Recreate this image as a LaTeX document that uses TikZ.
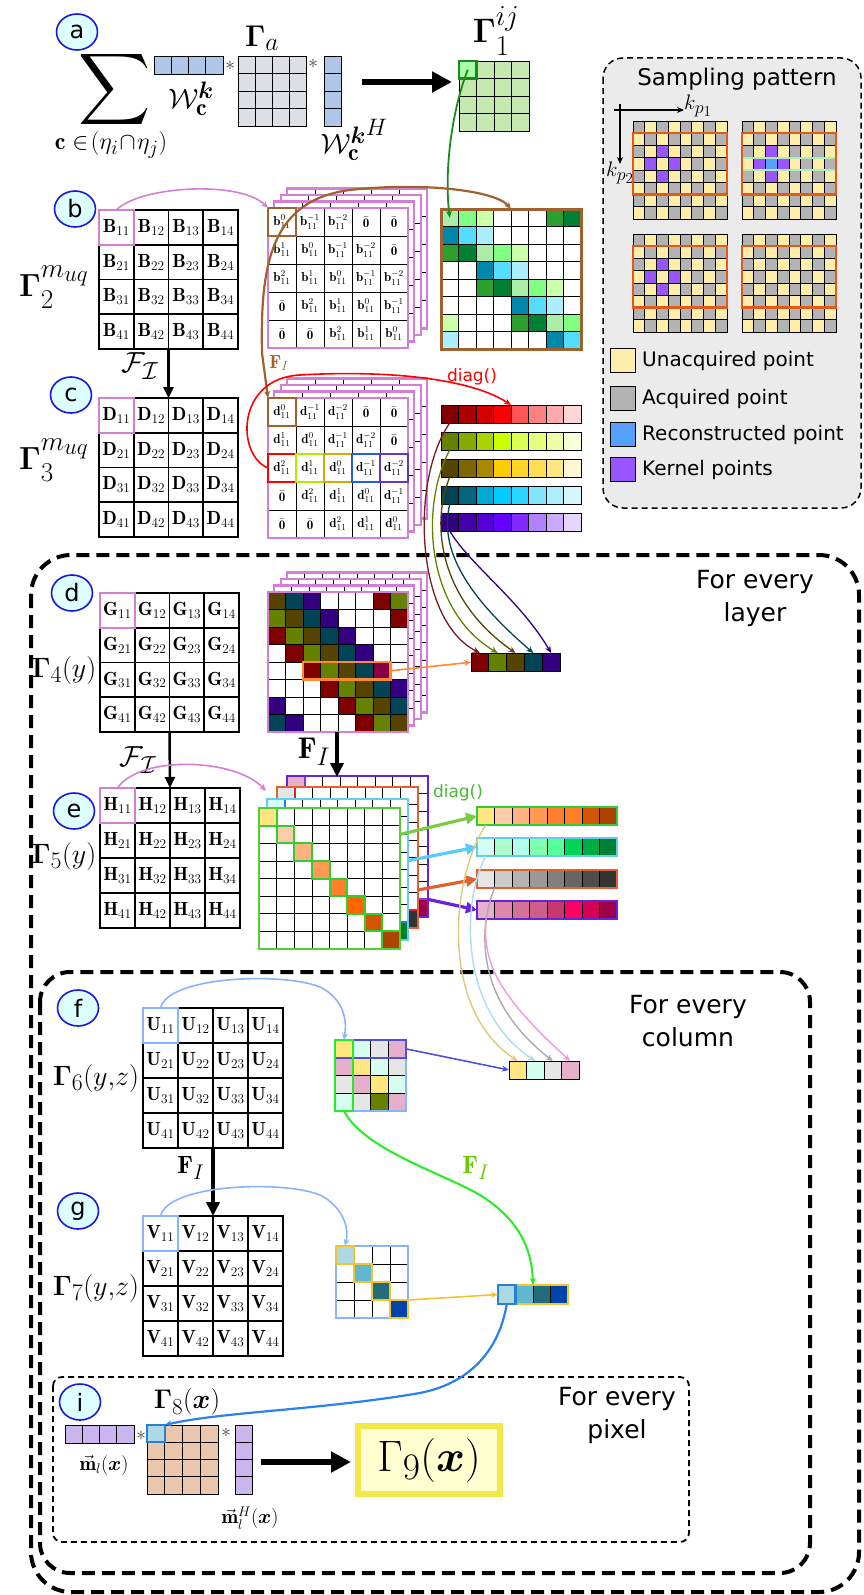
\RequirePackage{fix-cm}
\documentclass[tikz,border=0pt]{standalone}
\usepackage{fontspec}
\usepackage{amsmath,amssymb,bm}
\newfontfamily\dv{DejaVu Sans}
\usetikzlibrary{arrows.meta,shapes.geometric}
\newcommand\fs[1]{\fontsize{#1}{#1}\selectfont}
\newcommand\bigscripts{\def\defaultscriptratio{.85}\def\defaultscriptscriptratio{.72}}
% colours
\definecolor{pk}{HTML}{D47FD4}\definecolor{brn}{HTML}{A0622D}
\definecolor{labfill}{HTML}{DDFFFF}\definecolor{labblue}{HTML}{1818E0}
\definecolor{wblue}{HTML}{AEC6E8}\definecolor{gagray}{HTML}{DCDFE4}
\definecolor{gone}{HTML}{C6E9B0}\definecolor{goneA}{HTML}{AAFFAA}\definecolor{goneB}{HTML}{1A8A1A}
\definecolor{sbox}{HTML}{EBEBEB}\definecolor{yel}{HTML}{FFEEAA}\definecolor{gry}{HTML}{B3B3B3}
\definecolor{kpur}{HTML}{9955FF}\definecolor{rblue}{HTML}{55A0FF}\definecolor{orng}{HTML}{E05A1A}\definecolor{lgrn}{HTML}{AAEEBB}
\definecolor{L1}{HTML}{AAEEAA}\definecolor{L2}{HTML}{80FF80}\definecolor{L3}{HTML}{CCFFAA}
\definecolor{D1}{HTML}{2CA02C}\definecolor{D2}{HTML}{008033}
\definecolor{T1}{HTML}{0088AA}\definecolor{T2}{HTML}{55DDFF}\definecolor{T3}{HTML}{AAEEFF}
\definecolor{r1}{HTML}{800000}\definecolor{r2}{HTML}{AA0000}\definecolor{r3}{HTML}{D40000}\definecolor{r4}{HTML}{FF0000}
\definecolor{r5}{HTML}{FF5555}\definecolor{r6}{HTML}{FF8080}\definecolor{r7}{HTML}{FFAAAA}\definecolor{r8}{HTML}{FFD5D5}
\definecolor{o1}{HTML}{668000}\definecolor{o2}{HTML}{88AA00}\definecolor{o3}{HTML}{AAD400}\definecolor{o4}{HTML}{CCFF00}
\definecolor{o5}{HTML}{DDFF55}\definecolor{o6}{HTML}{E5FF80}\definecolor{o7}{HTML}{EEFFAA}\definecolor{o8}{HTML}{F6FFD5}
\definecolor{y1}{HTML}{554400}\definecolor{y2}{HTML}{806600}\definecolor{y3}{HTML}{AA8800}\definecolor{y4}{HTML}{FFCC00}
\definecolor{y5}{HTML}{FFD42A}\definecolor{y6}{HTML}{FFDD55}\definecolor{y7}{HTML}{FFE680}\definecolor{y8}{HTML}{FFF6D5}
\definecolor{c1}{HTML}{004455}\definecolor{c2}{HTML}{006680}\definecolor{c3}{HTML}{00AAD4}\definecolor{c4}{HTML}{00CCFF}
\definecolor{c5}{HTML}{2AD4FF}\definecolor{c6}{HTML}{80E5FF}\definecolor{c7}{HTML}{AAEEFF}\definecolor{c8}{HTML}{D5F6FF}
\definecolor{p1}{HTML}{330080}\definecolor{p2}{HTML}{4400AA}\definecolor{p3}{HTML}{5500D4}\definecolor{p4}{HTML}{6600FF}
\definecolor{p5}{HTML}{7F2AFF}\definecolor{p6}{HTML}{B380FF}\definecolor{p7}{HTML}{CCAAFF}\definecolor{p8}{HTML}{E5D5FF}
\definecolor{dM}{HTML}{880044}\definecolor{rc}{HTML}{7A1A1A}
\definecolor{bxlime}{HTML}{AAEE00}\definecolor{bxgold}{HTML}{D4AA00}\definecolor{bxblue}{HTML}{2060E0}\definecolor{bxpur}{HTML}{6633CC}
\definecolor{orn2}{HTML}{FF8833}
\definecolor{gA}{HTML}{FFE680}\definecolor{gB}{HTML}{FFCCAA}\definecolor{gC}{HTML}{FFB380}\definecolor{gD}{HTML}{FF9955}
\definecolor{gE}{HTML}{FF7F2A}\definecolor{gF}{HTML}{FF6600}\definecolor{gG}{HTML}{D45500}\definecolor{gH}{HTML}{AA4400}
\definecolor{mA}{HTML}{D5FFF6}\definecolor{mB}{HTML}{AAFFCC}\definecolor{mC}{HTML}{B3FFEE}\definecolor{mD}{HTML}{80FFB3}
\definecolor{mE}{HTML}{55FF99}\definecolor{mF}{HTML}{00D455}\definecolor{mG}{HTML}{00AA44}\definecolor{mH}{HTML}{008033}
\definecolor{kA}{HTML}{E6E6E6}\definecolor{kB}{HTML}{CCCCCC}\definecolor{kC}{HTML}{B3B3B3}\definecolor{kD}{HTML}{999999}
\definecolor{kE}{HTML}{808080}\definecolor{kF}{HTML}{666666}\definecolor{kG}{HTML}{4D4D4D}\definecolor{kH}{HTML}{333333}
\definecolor{qA}{HTML}{E6B0CC}\definecolor{qB}{HTML}{DE87AA}\definecolor{qC}{HTML}{D4709A}\definecolor{qD}{HTML}{CF5E8E}
\definecolor{qE}{HTML}{C83771}\definecolor{qF}{HTML}{FF0066}\definecolor{qG}{HTML}{D40055}\definecolor{qH}{HTML}{A0004A}
\definecolor{eGb}{HTML}{55CC33}\definecolor{eBb}{HTML}{66CCEE}\definecolor{eRb}{HTML}{E06030}\definecolor{ePb}{HTML}{6622DD}
\definecolor{eGx}{HTML}{33CC33}\definecolor{eBx}{HTML}{2A7AE2}\definecolor{eRx}{HTML}{DD2222}\definecolor{ePx}{HTML}{8833DD}
\definecolor{gArr}{HTML}{77CC44}\definecolor{bArr}{HTML}{55CCFF}
\definecolor{tanc}{HTML}{E0C878}\definecolor{lbc}{HTML}{AADDEE}\definecolor{grc}{HTML}{AAAAAA}\definecolor{pnc}{HTML}{EE99DD}
\definecolor{lbl}{HTML}{88B4FF}\definecolor{ind}{HTML}{5050DD}\definecolor{fgrn}{HTML}{22EE22}
\definecolor{Yl}{HTML}{FFE680}\definecolor{Mn}{HTML}{D5FFEE}\definecolor{Gy}{HTML}{E6E6E6}\definecolor{Pk}{HTML}{E6B0CC}\definecolor{Ol}{HTML}{668000}
\definecolor{v1}{HTML}{ADD8E6}\definecolor{v2}{HTML}{5FB8D0}\definecolor{v3}{HTML}{236C7A}\definecolor{v4}{HTML}{0044AA}
\definecolor{gold}{HTML}{F5C330}\definecolor{vbl}{HTML}{2A80D0}\definecolor{cblue}{HTML}{2A80EE}
\definecolor{mpur}{HTML}{CBB5EE}\definecolor{peach}{HTML}{EAC6AC}\definecolor{yb}{HTML}{F2E84A}\definecolor{yfill}{HTML}{FFFFD0}
\definecolor{fgl}{HTML}{66CC00}\definecolor{dgl}{HTML}{44BB33}\definecolor{stc}{HTML}{444444}

\tikzset{
 gcell/.style={draw=black, line width=0.8pt, inner sep=0pt, outer sep=0pt},
 scell/.style={gcell, line width=0.6pt, minimum width=11.75pt, minimum height=12.25pt},
 lab/.style={ellipse, draw=labblue, line width=1.6pt, fill=labfill, minimum width=41pt, minimum height=36pt, inner sep=0pt, font=\dv\fs{24}},
 ml/.style={font=\bigscripts\fs{#1}, inner sep=1pt},
 hbox/.style={draw=#1, line width=2.5pt, inner sep=0pt, outer sep=0pt},
 bigarrow/.style={line width=6pt, -{Triangle[length=20pt,width=20pt]}},
 farrow/.style={line width=2.5pt, -{Triangle[length=11pt,width=10pt]}},
 Farrow/.style={line width=4pt, -{Triangle[length=14pt,width=13pt]}},
 thinarr/.style={-{Stealth[length=7pt,width=6pt]}},
 bigdash/.style={line width=4pt, dash pattern=on 13pt off 7pt},
 smalldash/.style={line width=1.8pt, dash pattern=on 6pt off 4pt},
 star/.style={font=\fs{20}, text=stc, inner sep=0pt},
}

% generic grids
\newcommand\colgrid[6]{%
 \foreach \rowl [count=\ri] in {#6}{%
  \foreach \cellc [count=\ci] in \rowl {%
   \node[gcell, fill=\cellc, minimum width=#4pt, minimum height=#5pt] (#1-\ri-\ci) at ({#2+(\ci-0.5)*#4},{#3+(\ri-0.5)*#5}) {};
  }}}
\newcommand\unigrid[8]{%
 \foreach \ri in {1,...,#4}{\foreach \ci in {1,...,#5}{%
  \node[gcell, fill=#8, minimum width=#6pt, minimum height=#7pt] (#1-\ri-\ci) at ({#2+(\ci-0.5)*#6},{#3+(\ri-0.5)*#7}) {};}}}
\newcommand\lettergrid[6]{%
 \foreach \ri in {1,...,4}{\foreach \ci in {1,...,4}{%
  \node[gcell, line width=1.8pt, minimum size=#4pt, font=\fs{#6}] (#1-\ri-\ci) at ({#2+(\ci-0.5)*#4},{#3+(\ri-0.5)*#4}) {$\mathbf{#5}_{\ri\ci}$};}}}
\newcommand\toepgrid[4]{%
 \foreach \ri in {1,...,5}{\foreach \ci in {1,...,5}{%
  \pgfmathtruncatemacro\kk{\ri-\ci}%
  \node[gcell, line width=1pt, fill=white, minimum size=28pt, font=\fs{13}] (#1-\ri-\ci) at ({#2+(\ci-0.5)*28},{#3+(\ri-0.5)*28})
   {\ifnum\kk>2 $\bar{\mathbf{0}}$\else\ifnum\kk<-2 $\bar{\mathbf{0}}$\else $\mathbf{#4}^{\kk}_{11}$\fi\fi};}}}
\newcommand\stackback[6]{%
 \begin{scope}[shift={({#5*6.3},{-#5*6.5})}]
  \fill[white] (#1,#2) rectangle ++(#3,#3);
  \pgfmathtruncatemacro\nm{#4-1}
  \foreach \i in {1,...,\nm}{%
   \draw[line width=0.7pt] ({#1+\i*#3/#4},#2) -- ++(0,#3);
   \draw[line width=0.7pt] (#1,{#2+\i*#3/#4}) -- ++(#3,0);}
  \draw[#6, line width=2.2pt] (#1,#2) rectangle ++(#3,#3);
 \end{scope}}
\newcommand\sgrid[3]{%
 \foreach \ri in {1,...,8}{\foreach \ci in {1,...,8}{%
  \pgfmathtruncatemacro\pp{mod(\ri+\ci,2)}%
  \ifnum\pp=0 \def\fc{gry}\else\def\fc{yel}\fi
  \node[scell, fill=\fc] (#1-\ri-\ci) at ({#2+(\ci-0.5)*11.75},{#3+(\ri-0.5)*12.25}) {};}}}
\newcommand\elayer[6]{%
 \foreach \ri in {1,...,8}{\foreach \ci in {1,...,8}{%
  \node[gcell, line width=0.6pt, fill=white, minimum size=17.625pt] (#1-\ri-\ci) at ({#2+(\ci-0.5)*17.625},{#3+(\ri-0.5)*17.625}) {};}}
 \foreach \cc [count=\i] in {#6}{\node[gcell, fill=\cc, draw=#5, line width=2pt, minimum size=17.625pt] (#1-d\i) at (#1-\i-\i) {};}
 \draw[#4, line width=2.8pt] (#2,#3) rectangle ++(141,141);}

\begin{document}
\begin{tikzpicture}[x=1pt,y=-1pt]
\useasboundingbox (0,0) rectangle (863,1595);

% ---------- loop boxes ----------
\draw[bigdash, rounded corners=40pt] (31,555) rectangle (859,1592);
\draw[bigdash, rounded corners=30pt] (40,972) rectangle (810,1573);
\draw[smalldash, rounded corners=9pt] (53,1377) rectangle (689,1542);
\node[font=\dv\fontsize{25}{33}\selectfont, align=center] (tlayer) at (755,598) {For every\\layer};
\node[font=\dv\fontsize{25}{33}\selectfont, align=center] (tcol) at (688,1021) {For every\\column};
\node[font=\dv\fontsize{25}{33}\selectfont, align=center] (tpix) at (617,1415) {For every\\pixel};

% ---------- (a) ----------
\node[lab] (la) at (77,32) {a};
\node[font=\fs{50}] (sum) at (115,90) {$\displaystyle\sum$};
\node[ml=24] (sumsub) at (111,145) {$\mathbf{c}\in\!(\eta_i\!\cap\!\eta_j)$};
\unigrid{wv}{154}{56}{1}{4}{17.25}{18}{wblue}
\node[star] (st1) at (230,66) {$*$};
\node[ml=28] (wlab) at (191,99) {$\mathcal{W}_{\mathbf{c}}^{\bm{k}}$};
\node[ml=30] (galab) at (262,38) {$\bm{\Gamma}_a$};
\unigrid{ga}{238}{56}{4}{4}{17}{17.5}{gagray}
\node[star] (st2) at (313,64) {$*$};
\unigrid{wh}{324}{56}{4}{1}{17}{17.5}{wblue}
\node[ml=28] (whlab) at (354,140) {${\mathcal{W}_{\mathbf{c}}^{\bm{k}}}^{H}$};
\coordinate (aA) at (362,82); \coordinate (aB) at (452,82);
\draw[bigarrow] (aA) -- (aB);
\node[ml=34] (g1lab) at (496,31) {$\bm{\Gamma}_1^{ij}$};
\unigrid{go}{459}{61}{4}{4}{17.5}{17.5}{gone}
\node[gcell, draw=goneB, line width=2.2pt, fill=goneA, minimum size=17.5pt] (go11) at (go-1-1) {};

% ---------- sampling pattern ----------
\draw[line width=1.5pt, dash pattern=on 6pt off 4pt, fill=sbox, rounded corners=20pt] (603,58) rectangle (861,508);
\node[font=\dv\fs{23}] (stitle) at (737,79) {Sampling pattern};
\coordinate (ax0) at (614,110); \coordinate (ax1) at (684,110); \coordinate (ay0) at (620,104); \coordinate (ay1) at (620,164);
\draw[thinarr, line width=1.2pt] (ax0) -- (ax1);
\draw[thinarr, line width=1.2pt] (ay0) -- (ay1);
\node[ml=21, anchor=west] (kp1) at (683,106) {$k_{p_1}$};
\node[ml=21] (kp2) at (620,173) {$k_{p_2}$};
\sgrid{sA}{633}{121}
\sgrid{sB}{742}{121}
\sgrid{sC}{633}{234}
\sgrid{sD}{742}{234}
\foreach \a/\b in {3/3,4/2,4/4,5/3}{
 \node[scell, fill=kpur] (kA-\a-\b) at (sA-\a-\b) {};
 \node[scell, fill=kpur] (kB-\a-\b) at (sB-\a-\b) {};
 \node[scell, fill=kpur] (kC-\a-\b) at (sC-\a-\b) {};}
\node[scell, fill=rblue] (kB-rec) at (sB-4-3) {};
\draw[lgrn, line width=1.5pt] (sB-4-1.north west) rectangle (sB-4-8.south east);
\foreach \g in {sA,sB,sC,sD}{\draw[orng, line width=2.2pt] (\g-2-1.north west) rectangle (\g-6-8.south east);}
\tikzset{lgsq/.style={gcell, line width=1.2pt, minimum size=24.5pt}, lgtx/.style={anchor=west, font=\dv\fs{20}, inner sep=0pt}}
\node[lgsq, fill=yel] (lg1) at (623,360.5) {};
\node[lgsq, fill=gry] (lg2) at (623,398.5) {};
\node[lgsq, fill=rblue] (lg3) at (623,434.5) {};
\node[lgsq, fill=kpur] (lg4) at (623,469.5) {};
\node[lgtx] (lt1) at (642,361) {Unacquired point};
\node[lgtx] (lt2) at (642,399) {Acquired point};
\node[lgtx] (lt3) at (642,435) {Reconstructed point};
\node[lgtx] (lt4) at (642,470) {Kernel points};

% ---------- (b) ----------
\node[lab] (lb) at (75,209) {b};
\node[ml=32] (g2lab) at (54,287) {$\bm{\Gamma}_2^{m_{uq}}$};
\lettergrid{B}{99}{210}{34.75}{B}{19}
\node[hbox=pk, minimum size=34.75pt] (B11b) at (B-1-1) {};
\foreach \k in {3,2,1}{\stackback{268}{208}{140}{5}{\k}{pk}}
\toepgrid{bs}{268}{208}{b}
\draw[pk, line width=2.4pt] (bs-1-1.north west) rectangle (bs-5-5.south east);
\node[hbox=brn, minimum size=28pt] (bs11b) at (bs-1-1) {};
\draw[pk, line width=1.6pt, thinarr] (B-1-1.north) .. controls (140,186) and (240,180) .. (bs-1-1.north west);
\colgrid{cb}{441}{209}{17.5}{17.5}{{L1,L2,L3,white,white,white,D1,D2},{T1,T2,T3,white,white,white,white,white},{D1,D2,L1,L2,L3,white,white,white},{white,white,T1,T2,T3,white,white,white},{white,white,D1,D2,L1,L2,L3,white},{white,white,white,white,T1,T2,T3,white},{L3,white,white,white,D1,D2,L1,L2},{T3,white,white,white,white,white,T1,T2}}
\draw[brn, line width=3pt] (cb-1-1.north west) rectangle (cb-8-8.south east);
\draw[goneB, line width=1.8pt, thinarr] (go11.center) .. controls (452,110) and (444,170) .. (cb-1-1.center);

% ---------- (c) ----------
\node[lab] (lc) at (71,395) {c};
\node[ml=32] (g3lab) at (54,460) {$\bm{\Gamma}_3^{m_{uq}}$};
\lettergrid{D}{99}{398}{34.75}{D}{19}
\node[hbox=pk, minimum size=34.75pt] (D11b) at (D-1-1) {};
\draw[farrow] (B-4-2.south east) -- (D-1-2.north east);
\node[ml=29] (ft1) at (140,366) {$\mathcal{F}_{\mathcal{I}}$};
\foreach \k in {3,2,1}{\stackback{268}{398}{140}{5}{\k}{pk}}
\toepgrid{ds}{268}{398}{d}
\draw[pk, line width=2.4pt] (ds-1-1.north west) rectangle (ds-5-5.south east);
\node[hbox=brn, minimum size=28pt] (ds11b) at (ds-1-1) {};
\node[hbox=red, minimum size=28pt] (ds31b) at (ds-3-1) {};
\node[hbox=bxlime, minimum size=28pt] (ds32b) at (ds-3-2) {};
\node[hbox=bxgold, minimum size=28pt] (ds33b) at (ds-3-3) {};
\node[hbox=bxblue, minimum size=28pt] (ds34b) at (ds-3-4) {};
\node[hbox=bxpur, minimum size=28pt] (ds35b) at (ds-3-5) {};
\coordinate (brA) at (262,353);
\draw[brn, line width=2.2pt, thinarr] (brA) .. controls (260,262) and (272,200) .. (350,190) .. controls (420,182) and (495,190) .. (cb-1-5.north west);
\draw[brn, line width=2.2pt, thinarr] (brA) -- (ds-1-1.north west);
\node[ml=19, text=brn] (fib) at (279,363) {$\mathbf{F}_I$};
\colgrid{cr1}{441}{405}{17.5}{18}{{r1,r2,r3,r4,r5,r6,r7,r8}}
\colgrid{cr2}{441}{432}{17.5}{18}{{o1,o2,o3,o4,o5,o6,o7,o8}}
\colgrid{cr3}{441}{459}{17.5}{18}{{y1,y2,y3,y4,y5,y6,y7,y8}}
\colgrid{cr4}{441}{486}{17.5}{18}{{c1,c2,c3,c4,c5,c6,c7,c8}}
\colgrid{cr5}{441}{513}{17.5}{18}{{p1,p2,p3,p4,p5,p6,p7,p8}}
\node[red, font=\dv\fs{17}] (dg1) at (472,377) {diag()};
\draw[red, line width=1.6pt, thinarr] (ds-3-1.west) .. controls (236,455) and (236,378) .. (300,375) .. controls (385,370) and (470,378) .. (cr1-1-5.north west);

% ---------- (d) ----------
\node[lab] (ld) at (72,593) {d};
\node[ml=28] (g4lab) at (64,670) {$\bm{\Gamma}_4(y)$};
\lettergrid{G}{100}{593}{34.75}{G}{19}
\node[hbox=pk, minimum size=34.75pt] (G11b) at (G-1-1) {};
\foreach \k in {3,2,1}{\stackback{268}{592}{140}{8}{\k}{pk}}
\colgrid{dc}{268}{592}{17.5}{17.5}{{y1,c1,p1,white,white,white,r1,o1},{o1,y1,c1,p1,white,white,white,r1},{r1,o1,y1,c1,p1,white,white,white},{white,r1,o1,y1,c1,p1,white,white},{white,white,r1,o1,y1,c1,dM,white},{white,white,white,r1,o1,y1,c1,p1},{p1,white,white,white,r1,o1,y1,c1},{c1,p1,white,white,white,r1,o1,y1}}
\draw[pk, line width=2.4pt] (dc-1-1.north west) rectangle (dc-8-8.south east);
\draw[orn2, line width=2.2pt] (dc-5-3.north west) rectangle (dc-5-7.south east);
\colgrid{dv}{471}{653}{17.8}{18.5}{{r1,o1,y1,c1,p1}}
\draw[orn2, line width=1.6pt, thinarr] (dc-5-7.east) -- (dv-1-1.west);
\draw[rc, line width=1.3pt, thinarr] (cr1-1-1.south) .. controls (410,480) and (415,620) .. (dv-1-1.north);
\draw[o1, line width=1.3pt, thinarr] (cr2-1-1.south) .. controls (420,505) and (425,610) .. (dv-1-2.north);
\draw[y1, line width=1.3pt, thinarr] (cr3-1-1.south) .. controls (430,525) and (440,600) .. (dv-1-3.north);
\draw[c1, line width=1.3pt, thinarr] (cr4-1-1.south) .. controls (440,545) and (460,590) .. (dv-1-4.north);
\draw[p1, line width=1.3pt, thinarr] (cr5-1-1.south) .. controls (470,565) and (520,600) .. (dv-1-5.north);

% ---------- (e) ----------
\node[lab] (le) at (74,811) {e};
\node[ml=28] (g5lab) at (64,856) {$\bm{\Gamma}_5(y)$};
\lettergrid{H}{100}{788}{35}{H}{19}
\node[hbox=pk, minimum size=35pt] (H11b) at (H-1-1) {};
\draw[farrow] (G-4-2.south east) -- (H-1-2.north east);
\node[ml=29] (ft2) at (138,760) {$\mathcal{F}_{\mathcal{I}}$};
\elayer{eP}{287}{776}{ePb}{ePx}{qA,qB,qC,qD,qE,qF,qG,qH}
\elayer{eR}{277}{787}{eRb}{eRx}{kA,kB,kC,kD,kE,kF,kG,kH}
\elayer{eB}{267}{799}{eBb}{eBx}{mA,mB,mC,mD,mE,mF,mG,mH}
\elayer{eG}{259}{808}{eGb}{eGx}{gA,gB,gC,gD,gE,gF,gG,gH}
\coordinate (fiT) at (337,732); \coordinate (fiB) at (337,777);
\draw[Farrow] (fiT) -- (fiB);
\node[ml=30] (fi1) at (314,752) {$\mathbf{F}_I$};
\coordinate (pkE) at (266,791);
\draw[pk, line width=1.6pt, thinarr] (H-1-1.north) .. controls (140,755) and (235,758) .. (pkE);
\node[dgl, font=\dv\fs{17}] (dg2) at (458,793) {diag()};
\colgrid{rG}{477}{807}{17.5}{18}{{gA,gB,gC,gD,gE,gE,gG,gH}}
\colgrid{rB}{477}{838}{17.5}{18}{{mA,mB,mC,mD,mE,mF,mG,mH}}
\colgrid{rR}{477}{870}{17.5}{18}{{kA,kB,kC,kD,kE,kF,kG,kH}}
\colgrid{rP}{477}{901}{17.5}{18}{{qA,qB,qC,qD,qE,qF,qG,qH}}
\draw[eGx, line width=2.8pt] (rG-1-1.north west) rectangle (rG-1-8.south east);
\draw[eBb, line width=2.8pt] (rB-1-1.north west) rectangle (rB-1-8.south east);
\draw[eRb, line width=2.8pt] (rR-1-1.north west) rectangle (rR-1-8.south east);
\draw[ePb, line width=2.8pt] (rP-1-1.north west) rectangle (rP-1-8.south east);
\tikzset{earr/.style={line width=3.2pt, -{Triangle[length=11pt,width=11pt]}}}
\draw[earr, gArr] (eG-2-8.east) -- (rG-1-1.west);
\draw[earr, bArr] (eB-4-8.east) -- (rB-1-1.west);
\draw[earr, eRb] ([yshift=-6pt]eR-6-8.east) -- (rR-1-1.west);
\draw[earr, ePb] (eP-8-8.north east) -- (rP-1-1.west);

% ---------- (f) ----------
\node[lab] (lf) at (78,1008) {f};
\node[ml=28] (g6lab) at (96,1078) {$\bm{\Gamma}_6(y{,}z)$};
\lettergrid{U}{143}{1008}{35}{U}{19}
\node[hbox=lbl, minimum size=35pt] (U11b) at (U-1-1) {};
\colgrid{sm}{335}{1040}{17.75}{17.75}{{Yl,Mn,Gy,Pk},{Pk,Yl,Mn,Gy},{Gy,Pk,Yl,Mn},{Mn,Gy,Ol,Pk}}
\draw[lbl, line width=2pt] (sm-1-1.north west) rectangle (sm-4-4.south east);
\draw[ind, line width=2.5pt] (sm-1-1.north west) rectangle (sm-1-4.south east);
\draw[fgrn, line width=2.5pt] (sm-1-1.north west) rectangle (sm-4-1.south east);
\colgrid{fv}{509}{1061}{17.5}{18}{{Yl,Mn,Gy,Pk}}
\draw[lbl, line width=1.6pt, thinarr] (U-1-1.north) .. controls (168,975) and (290,972) .. (322,988) .. controls (340,998) and (348,1015) .. (sm-1-1.north);
\draw[ind, line width=1.6pt, thinarr] (sm-1-4.east) -- (fv-1-1.west);
\draw[tanc, line width=1.4pt, thinarr] (rG-1-1.south) .. controls (450,880) and (440,1010) .. (fv-1-1.north);
\draw[lbc, line width=1.4pt, thinarr] (rB-1-1.south) .. controls (462,900) and (458,1010) .. (fv-1-2.north);
\draw[grc, line width=1.4pt, thinarr] (rR-1-1.south east) .. controls (478,930) and (475,1000) .. (fv-1-3.north);
\draw[pnc, line width=1.4pt, thinarr] (rP-1-1.south) .. controls (484,960) and (492,990) .. (fv-1-4.north);

% ---------- (g) ----------
\node[lab] (lg) at (78,1211) {g};
\node[ml=28] (g7lab) at (96,1288) {$\bm{\Gamma}_7(y{,}z)$};
\lettergrid{V}{143}{1216}{35}{V}{19}
\node[hbox=lbl, minimum size=35pt] (V11b) at (V-1-1) {};
\draw[Farrow] (U-4-2.south east) -- (V-1-2.north east);
\node[ml=25] (fi2) at (191,1168) {$\mathbf{F}_I$};
\unigrid{gm}{336}{1246}{4}{4}{18}{18}{white}
\draw[lbl, line width=1.8pt] (gm-1-1.north west) rectangle (gm-4-4.south east);
\foreach \cc [count=\i] in {v1,v2,v3,v4}{\node[gcell, fill=\cc, draw=gold, line width=2.2pt, minimum size=18pt] (gmd\i) at (gm-\i-\i) {};}
\colgrid{gv}{498}{1285}{17.5}{19}{{v1,v2,v3,v4}}
\draw[gold, line width=2pt] (gv-1-1.north west) rectangle (gv-1-4.south east);
\node[hbox=vbl, minimum width=17.5pt, minimum height=19pt] (gv1b) at (gv-1-1) {};
\draw[lbl, line width=1.6pt, thinarr] (V-1-1.north) .. controls (168,1183) and (290,1180) .. (322,1196) .. controls (340,1206) and (350,1225) .. (gm-1-1.north);
\draw[gold, line width=1.6pt, thinarr] (gm-3-4.south east) -- (gv-1-1.west);
\draw[fgrn, line width=2pt, thinarr] (sm-4-1.south) .. controls (365,1150) and (440,1172) .. (480,1195) .. controls (520,1220) and (532,1250) .. (gv-1-2.north east);
\node[ml=25, text=fgl] (fi3) at (476,1168) {$\mathbf{F}_I$};

% ---------- (i) ----------
\node[lab] (li) at (80,1402) {i};
\node[ml=27] (g8lab) at (187,1402) {$\bm{\Gamma}_8(\bm{x})$};
\unigrid{mv}{65}{1425}{1}{4}{17.25}{18}{mpur}
\node[star] (st3) at (141,1436) {$*$};
\node[ml=20] (mlab) at (104,1465) {$\vec{\mathbf{m}}_l(\bm{x})$};
\unigrid{gq}{147}{1425}{4}{4}{17.75}{17.25}{peach}
\node[gcell, fill=v1, draw=vbl, line width=2.4pt, minimum width=17.75pt, minimum height=17.25pt] (gq11) at (gq-1-1) {};
\node[star] (st4) at (226,1433) {$*$};
\unigrid{mh}{235}{1425}{4}{1}{17}{17.25}{mpur}
\node[ml=20] (mhlab) at (250,1518) {$\vec{\mathbf{m}}_l^{H}(\bm{x})$};
\draw[cblue, line width=2.2pt, thinarr] (gv-1-1.south) .. controls (500,1345) and (475,1382) .. (420,1393) .. controls (320,1410) and (220,1412) .. (gq-1-1.north east);
\coordinate (iA) at (261,1462); \coordinate (iB) at (351,1462);
\draw[bigarrow] (iA) -- (iB);
\node[draw=yb, line width=6pt, fill=yfill, minimum width=142pt, minimum height=68pt, font=\bigscripts\fs{44}] (g9) at (429,1460) {$\Gamma_9(\bm{x})$};
\end{tikzpicture}
\end{document}
